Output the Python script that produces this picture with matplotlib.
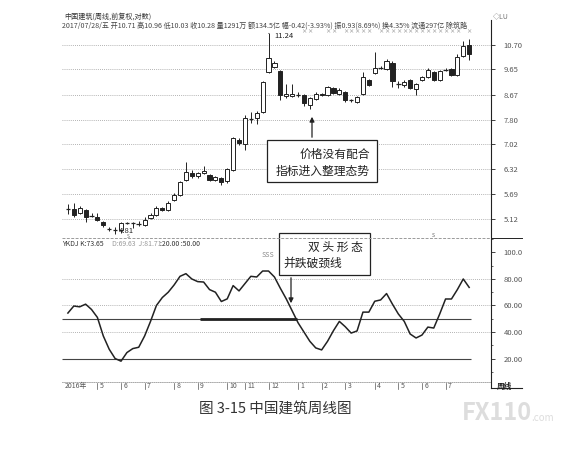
import matplotlib
matplotlib.use("Agg")
import matplotlib.pyplot as plt
from matplotlib.lines import Line2D
from matplotlib.patches import Rectangle, FancyArrowPatch
from matplotlib.ticker import NullLocator, MultipleLocator
from matplotlib.transforms import blended_transform_factory

plt.rcParams["font.family"] = ["Noto Sans CJK SC", "DejaVu Sans"]

W, H = 580, 454
def fx(x): return x / W
def fy(y): return 1 - y / H

# weekly candles, 2016-04 .. 2017-07-28
opens = [5.33, 5.33, 5.24, 5.31, 5.19, 5.16, 5.05, 4.91, 4.88, 4.88,
         5.04, 5.02, 5.01, 4.98, 5.14, 5.20, 5.36, 5.31, 5.55, 5.66,
         6.04, 6.22, 6.13, 6.22, 6.16, 6.04, 6.09, 6.02, 6.30, 7.15,
         7.03, 7.83, 7.85, 8.05, 9.54, 9.75, 9.58, 8.62, 8.63, 8.66,
         8.66, 8.28, 8.51, 8.70, 8.66, 8.92, 8.70, 8.77, 8.47, 8.40,
         8.70, 9.22, 9.51, 9.70, 9.67, 9.91, 9.06, 9.03, 9.22, 8.88,
         9.22, 9.35, 9.54, 9.22, 9.63, 9.66, 9.42, 10.20, 10.71]
closes = [5.36, 5.20, 5.35, 5.17, 5.20, 5.10, 4.99, 4.90, 4.87, 5.04,
          5.03, 5.01, 5.02, 5.09, 5.20, 5.35, 5.31, 5.48, 5.66, 5.98,
          6.25, 6.13, 6.22, 6.27, 6.04, 6.11, 5.99, 6.33, 7.20, 7.05,
          7.85, 7.87, 8.02, 9.15, 10.13, 9.91, 8.66, 8.70, 8.68, 8.67,
          8.36, 8.53, 8.70, 8.65, 8.96, 8.73, 8.84, 8.47, 8.46, 8.58,
          9.33, 9.03, 9.70, 9.72, 9.99, 9.19, 9.08, 9.15, 8.93, 9.07,
          9.35, 9.62, 9.22, 9.58, 9.65, 9.42, 10.18, 10.65, 10.28]
highs = [5.46, 5.47, 5.40, 5.33, 5.24, 5.24, 5.08, 4.94, 4.95, 5.06,
         5.05, 5.05, 5.08, 5.16, 5.24, 5.40, 5.38, 5.52, 5.70, 6.01,
         6.52, 6.30, 6.25, 6.40, 6.18, 6.14, 6.11, 6.36, 7.24, 7.20,
         7.95, 8.05, 8.10, 9.20, 11.24, 9.98, 9.62, 9.06, 9.06, 8.75,
         8.70, 8.58, 8.75, 8.73, 9.00, 8.97, 8.90, 8.80, 8.52, 8.62,
         9.55, 9.28, 10.38, 9.78, 10.10, 9.99, 9.20, 9.22, 9.27, 9.10,
         9.40, 9.70, 9.60, 9.62, 9.72, 9.70, 10.30, 10.90, 10.96]
lows = [5.22, 5.16, 5.22, 5.05, 5.15, 5.07, 4.95, 4.86, 4.81, 4.83,
        5.00, 4.92, 4.97, 4.96, 5.12, 5.18, 5.29, 5.29, 5.52, 5.63,
        6.00, 6.10, 6.10, 6.18, 6.02, 6.02, 5.90, 5.96, 6.28, 7.00,
        6.85, 7.70, 7.65, 8.02, 9.50, 9.70, 8.47, 8.55, 8.58, 8.58,
        8.25, 8.15, 8.48, 8.62, 8.62, 8.68, 8.66, 8.40, 8.40, 8.36,
        8.65, 8.98, 9.45, 9.65, 9.62, 8.95, 8.92, 8.95, 8.88, 8.66,
        9.18, 9.30, 9.18, 9.18, 9.60, 9.38, 9.38, 10.15, 10.03]
# YKDJ K line
k_line = [54.3, 59.6, 59.0, 61.0, 57.0, 51.0, 37.0, 27.0, 20.0, 18.0,
          24.5, 27.5, 28.5, 37.0, 48.0, 60.0, 66.0, 70.0, 75.5, 82.0,
          84.0, 80.0, 78.0, 77.7, 72.0, 70.0, 63.0, 65.0, 75.0, 71.0,
          76.5, 82.0, 81.5, 86.0, 86.0, 81.5, 73.0, 65.0, 56.0, 47.0,
          40.0, 33.0, 28.0, 26.5, 33.0, 41.0, 48.0, 44.0, 39.2, 40.8,
          55.0, 55.0, 63.2, 64.2, 69.0, 61.0, 53.6, 48.0, 38.5, 35.5,
          37.7, 43.7, 43.0, 53.5, 64.9, 64.9, 72.0, 80.0, 73.65]

price_ticks = [10.70, 9.65, 8.67, 7.80, 7.02, 6.32, 5.69, 5.12]
kdj_ticks = [100, 80, 60, 40, 20]
kdj_labels = ["100.0", "80.00", "60.00", "40.00", "20.00"]
month_pos = [5, 9, 13, 18, 22, 27, 30, 34, 39, 43, 47, 52, 56, 60, 64]
month_labels = ["5", "6", "7", "8", "9", "10", "11", "12",
                "1", "2", "3", "4", "5", "6", "7"]
info_marks = [40, 41, 44, 45, 47, 48, 49, 50, 51, 53, 54, 55, 56, 57,
              58, 59, 60, 61, 62, 63, 64, 65, 66, 68]
neck = (22.4, 38.8, 50)

INK = "#222222"
GRID = "#9a9a9a"
LAB = "#555555"
idx = list(range(len(opens)))

fig = plt.figure(figsize=(5.8, 4.54), dpi=100)
ax = fig.add_axes([fx(62), fy(238), fx(491) - fx(62), fy(30) - fy(238)])
ak = fig.add_axes([fx(62), fy(382), fx(491) - fx(62), fy(238) - fy(382)])

# ---- price pane ----
for p in price_ticks:
    ax.axhline(p, color=GRID, lw=0.6, ls=(0, (1, 1.5)), zorder=1)
for i in idx:
    o, c, h, l = opens[i], closes[i], highs[i], lows[i]
    ax.vlines(i, l, h, color=INK, lw=0.7, zorder=2)
    lo, hi = min(o, c), max(o, c)
    if hi - lo < 0.045:
        ax.hlines(o, i - 0.38, i + 0.38, color=INK, lw=0.9, zorder=3)
    else:
        ax.bar(i, hi - lo, bottom=lo, width=0.7, color="white" if c > o else INK,
               edgecolor=INK, lw=0.7, zorder=3)

ax.set_yscale("log")
ax.set_ylim(4.72, 11.40)
ax.set_xlim(-1.0, 71.7)
ax.yaxis.set_minor_locator(NullLocator())
ax.yaxis.tick_right()
ax.set_yticks(price_ticks)
ax.set_yticklabels([f"{p:.2f}" for p in price_ticks])
ax.tick_params(axis="y", direction="out", length=3, width=0.6, color=INK,
               labelsize=5.5, labelcolor=LAB, pad=6)
ax.tick_params(axis="x", bottom=False, labelbottom=False)
for s in ax.spines.values():
    s.set_visible(False)

hi_i = highs.index(max(highs))
lo_i = lows.index(min(lows))
ax.annotate(f"{highs[hi_i]:.2f}", xy=(hi_i, highs[hi_i]), xytext=(4, -2),
            textcoords="offset points", fontsize=5.5, color=INK, va="center",
            arrowprops=dict(arrowstyle="-", lw=0.6, color=INK))
ax.annotate(f"{lows[lo_i]:.2f}", xy=(lo_i, lows[lo_i]), xytext=(3, 2),
            textcoords="offset points", fontsize=5.5, color=INK, va="center")
tr = blended_transform_factory(ax.transData, ax.transAxes)
for i in info_marks:
    ax.text(i, 0.99, "×", transform=tr, fontsize=3.8, color="#777",
            ha="center", va="center")
ax.text(lo_i + 2.3, -0.004, "S", transform=tr, fontsize=3.5, color="#666",
        ha="center", va="bottom")
ax.text(62, 0.0, "S", transform=tr, fontsize=3.8, color="#666",
        ha="center", va="bottom")

# ---- YKDJ pane ----
for v in [80, 60, 40]:
    ak.axhline(v, color=GRID, lw=0.6, ls=(0, (1, 1.5)), zorder=1)
ak.hlines([20, 50], -1.0, 68.3, color="#444", lw=0.8, zorder=2)
ak.hlines(neck[2], neck[0], neck[1], color=INK, lw=2.0, zorder=2)
ak.plot(idx, k_line, color=INK, lw=1.1, zorder=3)
ak.set_ylim(2.3, 110.9)
ak.set_xlim(-1.0, 71.7)
ak.yaxis.tick_right()
ak.set_yticks(kdj_ticks)
ak.set_yticklabels(kdj_labels)
ak.yaxis.set_minor_locator(MultipleLocator(10))
ak.tick_params(axis="y", which="major", direction="out", length=3, width=0.6,
               color=INK, labelsize=5.5, labelcolor=LAB, pad=6)
ak.tick_params(axis="y", which="minor", direction="out", length=1.5, width=0.5, color=INK)
ak.tick_params(axis="x", bottom=False, labelbottom=False)
for k, s in ak.spines.items():
    s.set_visible(k == "bottom")
ak.spines["bottom"].set_color(GRID)
ak.spines["bottom"].set_linestyle((0, (1, 1.5)))
ak.spines["bottom"].set_linewidth(0.6)

trk = blended_transform_factory(ak.transData, ak.transAxes)
ak.text(32.9, 0.885, "SSS", transform=trk, fontsize=5, color="#888",
        ha="left", va="center")
ak.text(-0.6, -0.03, "2016年", transform=trk, fontsize=5, color=LAB, va="center", ha="left")
for pos, lab in zip(month_pos, month_labels):
    ak.plot([pos, pos], [-0.005, -0.05], transform=trk, color=LAB, lw=0.5, clip_on=False)
    ak.text(pos + 0.4, -0.03, lab, transform=trk, fontsize=5, color=LAB, va="center", ha="left")

# ---- frame lines ----
fig.add_artist(Line2D([fx(491), fx(491)], [fy(20), fy(388)], color=INK, lw=0.8))
fig.add_artist(Line2D([fx(491), fx(522)], [fy(388), fy(388)], color=INK, lw=0.8))
fig.add_artist(Line2D([fx(62), fx(491)], [fy(238), fy(238)], color=GRID, lw=0.7, ls=(0, (3, 1.5))))
fig.add_artist(Line2D([fx(491), fx(522)], [fy(238), fy(238)], color=INK, lw=0.7))
fig.text(fx(497), fy(386), "周线", fontsize=5.5, fontweight="bold", color=INK, va="center")

# ---- header texts ----
fig.text(fx(64), fy(17), "中国建筑(周线,前复权,对数)", fontsize=5.1, color="#333", va="center")
fig.text(fx(62), fy(25.5),
         "2017/07/28/五 开10.71 高10.96 低10.03 收10.28 量1291万 额134.5亿 "
         "幅-0.42(-3.93%) 振0.93(8.69%) 换4.35% 流通297亿 除筑路",
         fontsize=5.1, color="#444", va="center")
fig.text(fx(493), fy(16), "◇LU", fontsize=5, color="#777", va="center")
fig.text(fx(62), fy(243.5), "YKDJ K:73.65", fontsize=5, color="#333", va="center")
fig.text(fx(112), fy(243.5), "D:69.63  J:81.71", fontsize=5, color="#999", va="center")
fig.text(fx(160), fy(243.5), ":20.00 :50.00", fontsize=5, color="#333", va="center")

# ---- annotation boxes ----
fig.add_artist(Rectangle((fx(267), fy(182)), fx(377) - fx(267), fy(140) - fy(182),
                         transform=fig.transFigure, facecolor="white", edgecolor=INK, lw=0.9))
fig.text(fx(370), fy(154), "价格没有配合", fontsize=8.5, color=INK, ha="right", va="center")
fig.text(fx(370), fy(171), "指标进入整理态势", fontsize=8.5, color=INK, ha="right", va="center")
fig.add_artist(FancyArrowPatch((fx(312), fy(140)), (fx(312), fy(114)), transform=fig.transFigure,
                               arrowstyle="-|>", mutation_scale=7, color=INK, lw=0.9))

fig.add_artist(Rectangle((fx(279), fy(275)), fx(370) - fx(279), fy(233) - fy(275),
                         transform=fig.transFigure, facecolor="white", edgecolor=INK, lw=0.9))
fig.text(fx(363), fy(247), "双 头 形 态", fontsize=8.5, color=INK, ha="right", va="center")
fig.text(fx(283), fy(263), "并跌破颈线", fontsize=8.5, color=INK, ha="left", va="center")
fig.add_artist(FancyArrowPatch((fx(291), fy(275)), (fx(291), fy(306)), transform=fig.transFigure,
                               arrowstyle="-|>", mutation_scale=7, color=INK, lw=0.9))

# ---- caption & watermark ----
fig.text(fx(275), fy(409), "图 3-15 中国建筑周线图", fontsize=10.5, color="#333",
         ha="center", va="center")
fig.text(fx(462), fy(413), "FX110", fontsize=17, fontweight="bold", color="#dddddd",
         ha="left", va="center")
fig.text(fx(531), fy(418), ".com", fontsize=7, color="#dddddd", ha="left", va="center")

fig.savefig("out.png", dpi=100)
